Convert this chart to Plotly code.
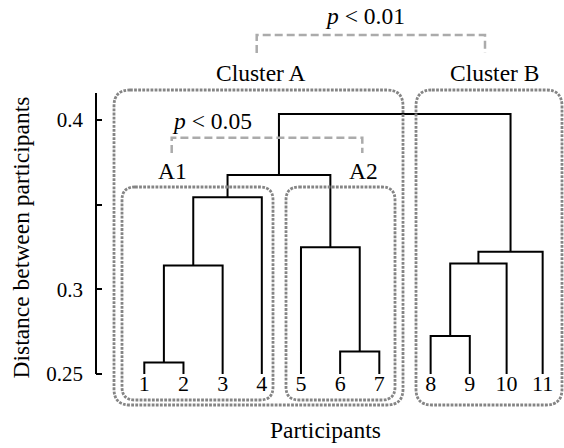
import plotly.graph_objects as go

# ---------------- data ----------------
leaf_labels = ["1", "2", "3", "4", "5", "6", "7", "8", "9", "10", "11"]
leaf_pos = [1, 2, 3, 4, 5, 6, 7, 8.31, 9.31, 10.25, 11.17]
leaf_base = 0.25
# merges: (left child, right child, height); children <11 are leaves, >=11 are earlier merges
merge_left = [0, 5, 7, 11, 13, 15, 4, 14, 18, 19]
merge_right = [1, 6, 8, 2, 9, 10, 12, 3, 17, 16]
merge_height = [0.2567, 0.2632, 0.2724, 0.314, 0.3153, 0.3222, 0.3248, 0.3543, 0.3675, 0.4035]

y_tickvals = [0.25, 0.3, 0.35, 0.4]
y_ticktext = ["0.25", "0.3", "", "0.4"]

# ---------------- layout constants ----------------
W, H = 564, 448
ML = 96
PX_PER_X = 39.17
X0 = 1 - (144.3 - ML) / PX_PER_X
X1 = X0 + (W - ML) / PX_PER_X
PX_PER_Y = 1693.0
Y_TOP = 0.4 + 120 / PX_PER_Y
Y_BOT = 0.4 - (H - 120) / PX_PER_Y


def X(px):
    return X0 + (px - ML) / PX_PER_X


def Y(py):
    return 0.4 - (py - 120) / PX_PER_Y


# ---------------- dendrogram segments ----------------
n = len(leaf_pos)
node_x = list(leaf_pos)
node_h = [leaf_base] * n
xs, ys = [], []
for l, r, h in zip(merge_left, merge_right, merge_height):
    xl, xr = node_x[l], node_x[r]
    xs += [xl, xl, xr, xr, None]
    ys += [node_h[l], h, h, node_h[r], None]
    node_x.append((xl + xr) / 2)
    node_h.append(h)

FONT = "Liberation Serif"
fig = go.Figure()
fig.add_trace(go.Scatter(x=xs, y=ys, mode="lines",
                         line=dict(color="black", width=2),
                         hoverinfo="skip", showlegend=False))
fig.add_trace(go.Scatter(x=leaf_pos, y=[Y(385)] * n, mode="text",
                         text=leaf_labels, textposition="middle center",
                         textfont=dict(family=FONT, size=22, color="black"),
                         hoverinfo="skip", showlegend=False))


def rrect(x0, y0, x1, y1, r):
    p = lambda a, b: f"{X(a)},{Y(b)}"
    return (f"M {p(x0 + r, y0)} L {p(x1 - r, y0)} Q {p(x1, y0)} {p(x1, y0 + r)} "
            f"L {p(x1, y1 - r)} Q {p(x1, y1)} {p(x1 - r, y1)} "
            f"L {p(x0 + r, y1)} Q {p(x0, y1)} {p(x0, y1 - r)} "
            f"L {p(x0, y0 + r)} Q {p(x0, y0)} {p(x0 + r, y0)} Z")


shapes = []
dot = dict(color="#858585", width=2.8, dash="2.8px,1.3px")
for box, r in [((114, 90, 403, 405), 16), ((416, 90, 562, 405), 16),
               ((122, 187, 273, 400), 13), ((286, 187, 395, 400), 13)]:
    shapes.append(dict(type="path", xref="x", yref="y", path=rrect(*box, r), line=dot))

dash = dict(color="#ababab", width=2.5, dash="8px,4px")
for (xa, xb, yt, yb) in [(256.7, 485, 35, 53), (171.7, 362.3, 137.7, 153)]:
    path = f"M {X(xa)},{Y(yb)} L {X(xa)},{Y(yt)} L {X(xb)},{Y(yt)} L {X(xb)},{Y(yb)}"
    shapes.append(dict(type="path", xref="x", yref="y", path=path, line=dash))

# y-axis line
shapes.append(dict(type="line", xref="paper", yref="y", x0=0, x1=0,
                   y0=0.25, y1=Y(93), line=dict(color="black", width=2)))

annotations = []


def txt(s, px, py, size=23.5, angle=0):
    annotations.append(dict(text=s, x=X(px), y=Y(py), xref="x", yref="y",
                            showarrow=False, textangle=angle,
                            font=dict(family=FONT, size=size, color="black"),
                            xanchor="center", yanchor="middle"))


txt("<i>p</i> &lt; 0.01", 365, 16)
txt("Cluster A", 260.5, 73)
txt("Cluster B", 494, 73)
txt("<i>p</i> &lt; 0.05", 211.7, 121)
txt("A1", 172, 171)
txt("A2", 363, 171)
txt("Participants", 325, 430)
annotations.append(dict(text="Distance between participants", x=(20 - ML) / (W - ML),
                        y=1 - 237.5 / H,
                        xref="paper", yref="paper", showarrow=False, textangle=-90,
                        font=dict(family=FONT, size=23.5, color="black"),
                        xanchor="center", yanchor="middle"))

fig.update_layout(
    width=W, height=H,
    margin=dict(l=ML, r=0, t=0, b=0),
    plot_bgcolor="white", paper_bgcolor="white",
    shapes=shapes, annotations=annotations,
    xaxis=dict(range=[X0, X1], visible=False, fixedrange=True),
    yaxis=dict(range=[Y_BOT, Y_TOP], showgrid=False, zeroline=False, showline=False,
               tickvals=y_tickvals, ticktext=y_ticktext, ticks="inside", ticklen=6,
               tickwidth=2, tickcolor="black", ticklabelstandoff=12, fixedrange=True,
               tickfont=dict(family=FONT, size=21, color="black")),
)

fig.write_html("out.html", config={"displayModeBar": False},
               post_script="document.body.style.margin='0';document.body.style.overflow='hidden';")
